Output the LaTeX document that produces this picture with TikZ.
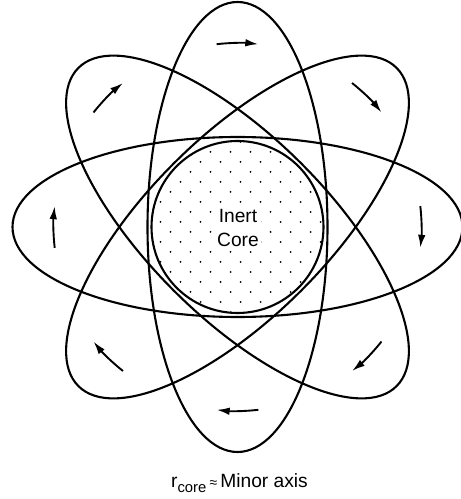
\documentclass[tikz,border=0pt]{standalone}
\usepackage{fontspec}
\setmainfont{Liberation Sans}
\usetikzlibrary{arrows.meta}
\begin{document}
\begin{tikzpicture}[x=0.5pt,y=0.5pt,
  orbit/.style={line width=1.05pt},
  flow/.style={line width=0.95pt,-{Latex[length=6.5pt,width=3.8pt]}},
  dot/.style={fill=black},
  txt/.style={font=\fontsize{9.6}{11.6}\selectfont, align=center, inner sep=1pt}]
\useasboundingbox (0,0) rectangle (461,499);
\coordinate (c) at (237.5,272);
% dotted core fill
\begin{scope}
  \clip (c) circle[radius=85];
  \foreach \i in {-5,...,5}{
    \foreach \j in {-5,...,5}{
      \fill[dot,shift={(c)}] (20*\i+3,20*\j+5) circle[radius=1.0];
      \fill[dot,shift={(c)}] (20*\i+13,20*\j+15) circle[radius=1.0];
    }
  }
\end{scope}
\node[circle, draw, line width=1.05pt, minimum size=86pt, inner sep=0pt] (core) at (c) {};
\node[txt, fill=white] (lbl) at (238,271) {Inert\\Core};
% orbits
\draw[orbit] (c) ellipse[x radius=225, y radius=90];
\draw[orbit, rotate around={90:(c)}] (c) ellipse[x radius=225, y radius=90];
\draw[orbit, rotate around={45:(c)}] (c) ellipse[x radius=225, y radius=90];
\draw[orbit, rotate around={-45:(c)}] (c) ellipse[x radius=225, y radius=90];
% direction arrows (clockwise)
\foreach \a in {90,45,0,-45,-90,-135,180,135}{
  \draw[flow,shift={(c)}] (\a+6.5:184) arc[start angle=\a+6.5, end angle=\a-6.5, radius=184];
}
% caption
\node[txt] (cap) at (239.5,16) {r\raisebox{-0.45ex}{\fontsize{7.4}{8}\selectfont core}\,{\fontsize{7}{8}\selectfont ≈}\,Minor axis};
\end{tikzpicture}
\end{document}
